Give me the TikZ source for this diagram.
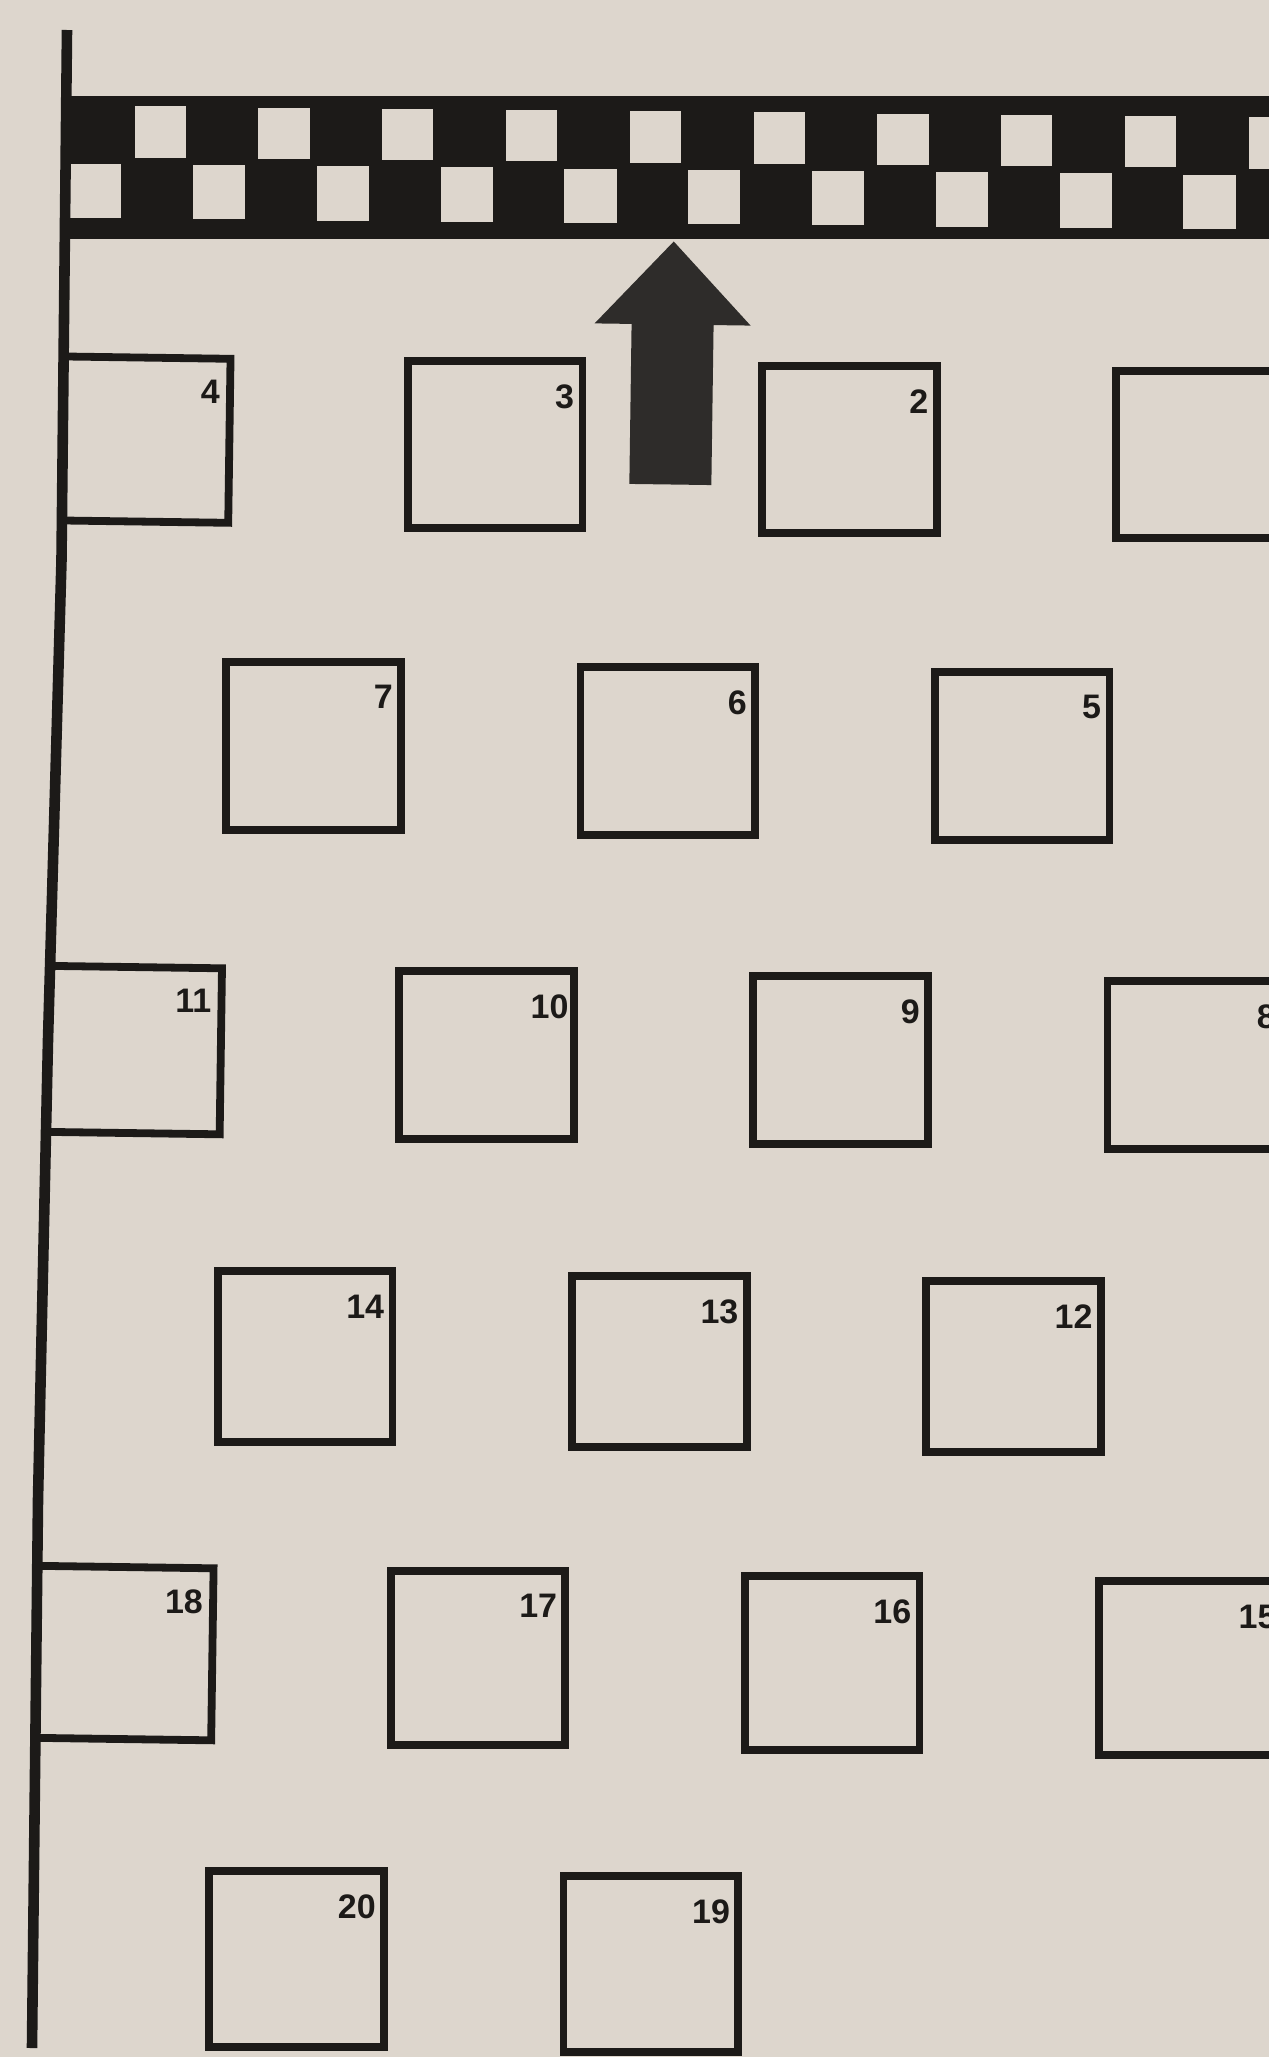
\documentclass[tikz,border=0pt]{standalone}
\usepackage{fontspec}
\setmainfont{Liberation Sans}
\definecolor{paper}{RGB}{221,214,205}
\definecolor{ink}{RGB}{28,26,24}
\definecolor{arrowgray}{RGB}{46,44,42}
\newcommand\gbox[6][0]{%
  \draw[boxline] (#4,#5) rectangle ++(177.1,#6);
  \node[lab] (#2) at ({#4+167.1+#1},{#5+21}) {#3};}
\newcommand\pbox[6]{%
  \draw[boxline] (#6,#4) -- ({#3+177.1},#4) -- ({#3+177.1},{#4+#5}) -- (#6,{#4+#5});
  \node[lab] (#1) at ({#3+167.1},{#4+21}) {#2};}
\begin{document}
\begin{tikzpicture}[x=0.5pt,y=-0.5pt,
  boxline/.style={draw=ink,line width=3.9pt},
  polestyle/.style={draw=ink,line width=5.3pt,line join=round},
  lab/.style={anchor=north east,inner sep=0pt,font=\fontsize{17}{17}\selectfont\bfseries,text=ink}]
\fill[paper] (0,0) rectangle (1269,2057);
\useasboundingbox (0,0) rectangle (1269,2057);
% checkered flag
\begin{scope}[x={(0.5pt,-0.00485pt)},y={(-0.007pt,-0.5pt)}]
  \fill[ink] (66,95) rectangle (1400,225);
  \foreach \k in {0,...,9} {\fill[paper] ({136+123.8*\k},105) rectangle ++(52,51);}
  \foreach \k in {0,...,9} {\fill[paper] ({71.5+123.8*\k},163) rectangle ++(53,54);}
\end{scope}
% pole
\draw[polestyle] (67,30) -- (61.5,560) -- (48,1040) -- (38,1500) -- (32,2048);
% grid
\begin{scope}[x={(0.5pt,-0.007pt)},y={(-0.007pt,-0.5pt)}]
  \fill[arrowgray] (677,232) -- (755,315) -- (718,315) -- (718,475) -- (636,475) -- (636,315) -- (599,315) -- cycle;
  % row 1
  \pbox{l4}{4}{58.4}{355.5}{164}{69}
  \gbox{l3}{3}{412.6}{355.5}{164}
  \gbox{l2}{2}{766.8}{355.5}{164}
  \draw[boxline] (1121,355.5) rectangle ++(177.1,164);
  % row 2
  \gbox{l7}{7}{235.5}{658.5}{166}
  \gbox{l6}{6}{589.7}{658.5}{166}
  \gbox{l5}{5}{943.9}{658.5}{166}
  % row 3
  \pbox{l11}{11}{58.4}{965}{166}{63.5}
  \gbox[3]{l10}{10}{412.6}{965}{166}
  \gbox{l9}{9}{766.8}{965}{166}
  \gbox[2]{l8}{8}{1121}{965}{166}
  % row 4
  \gbox{l14}{14}{235.5}{1268}{168}
  \gbox{l13}{13}{589.7}{1268}{168}
  \gbox{l12}{12}{943.9}{1268}{168}
  % row 5
  \pbox{l18}{18}{58.4}{1565}{172}{59.5}
  \gbox{l17}{17}{412.6}{1565}{172}
  \gbox{l16}{16}{766.8}{1565}{172}
  \gbox[11]{l15}{15}{1121}{1565}{172}
  % row 6
  \gbox{l20}{20}{235.5}{1867.5}{174}
  \gbox{l19}{19}{589.7}{1867.5}{174}
\end{scope}
\end{tikzpicture}
\end{document}
